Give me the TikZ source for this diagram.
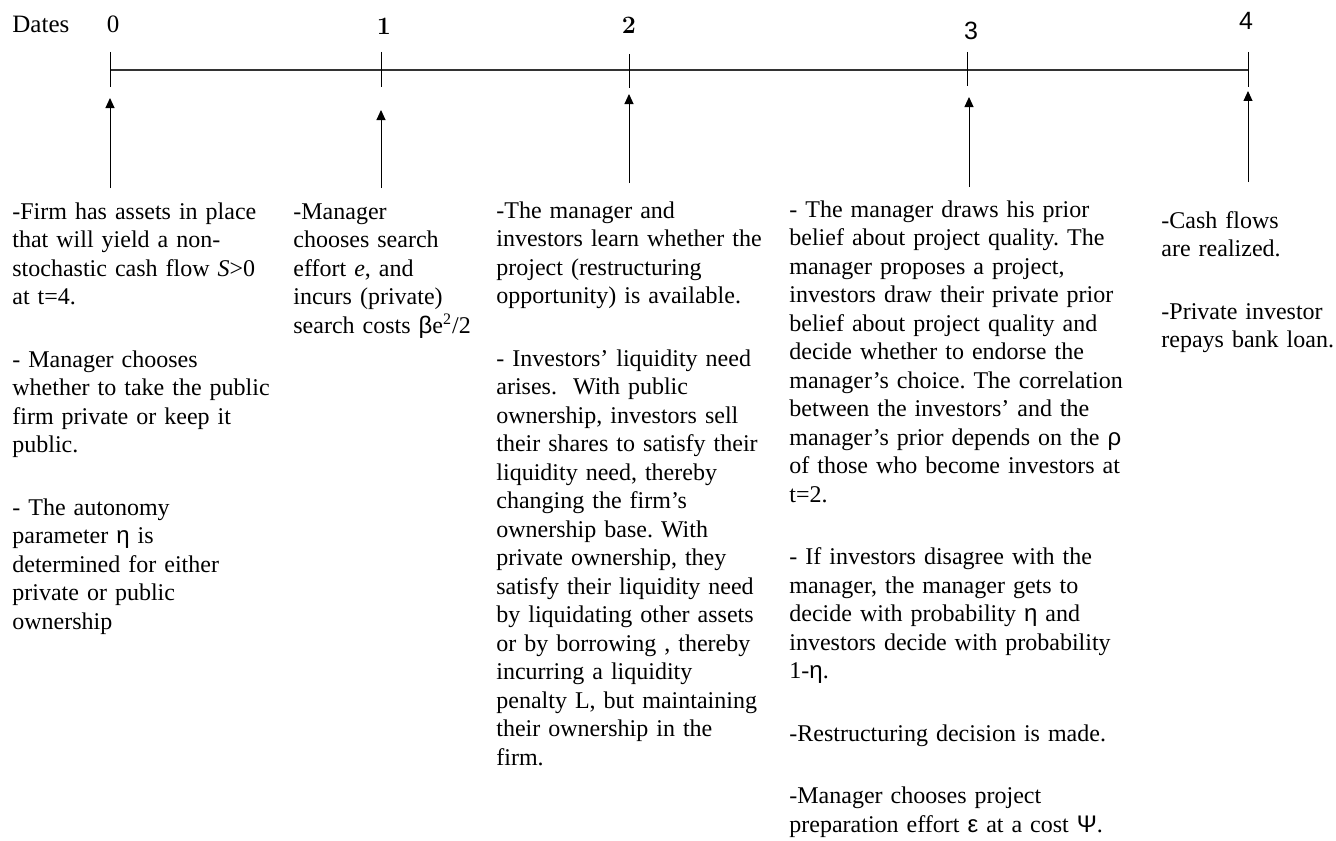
\documentclass[tikz,border=0pt]{standalone}
\usepackage{fontspec}
\setmainfont{Liberation Serif}
\newfontfamily\grk{Liberation Sans}
\newfontfamily\lmr{Latin Modern Roman}
\newfontfamily\digsans{Liberation Sans}
\usetikzlibrary{arrows.meta}
\frenchspacing
\begin{document}
\begin{tikzpicture}[x=0.5pt,y=-0.5pt,
  txt/.style={anchor=north west, inner sep=0pt, text width=#1, align=left,
    font=\fontsize{12}{14.25}\selectfont\frenchspacing},
  datelbl/.style={anchor=center, inner sep=0pt, font=\fontsize{12.5}{14}\selectfont},
  axisline/.style={draw=black!80, line width=0.65pt},
  tickline/.style={draw=black, line width=0.45pt},
  uparrow/.style={draw=black, line width=0.5pt, -{Triangle[length=5pt,width=4.5pt]}}
]
\useasboundingbox[fill=white] (0,0) rectangle (1336,840);

% date labels
\node[datelbl, anchor=west] (dates) at (12,24) {Dates};
\node[datelbl] (d0) at (113,24) {0};
\node[datelbl] (d1) at (384,26) {\lmr\bfseries 1};
\node[datelbl] (d2) at (629,25) {\lmr\bfseries 2};
\node[datelbl] (d3) at (971,31) {\digsans 3};
\node[datelbl] (d4) at (1246,21) {\digsans 4};

% axis and ticks
\coordinate (t0) at (110,70);
\coordinate (t4) at (1248,70);
\draw[axisline] (t0) -- (t4);
\coordinate (k0a) at (110,52); \coordinate (k0b) at (110,87);
\coordinate (k1a) at (381,52); \coordinate (k1b) at (381,87);
\coordinate (k2a) at (629,54); \coordinate (k2b) at (629,88);
\coordinate (k3a) at (967,52); \coordinate (k3b) at (967,86);
\coordinate (k4a) at (1248,52); \coordinate (k4b) at (1248,87);
\draw[tickline] (k0a) -- (k0b);
\draw[tickline] (k1a) -- (k1b);
\draw[tickline] (k2a) -- (k2b);
\draw[tickline] (k3a) -- (k3b);
\draw[tickline] (k4a) -- (k4b);

% arrows
\coordinate (a0s) at (110,188); \coordinate (a0e) at (110,98);
\coordinate (a1s) at (381,188); \coordinate (a1e) at (381,110);
\coordinate (a2s) at (629,183); \coordinate (a2e) at (629,94);
\coordinate (a3s) at (969,187); \coordinate (a3e) at (969,97);
\coordinate (a4s) at (1248,182); \coordinate (a4e) at (1248,91);
\draw[uparrow] (a0s) -- (a0e);
\draw[uparrow] (a1s) -- (a1e);
\draw[uparrow] (a2s) -- (a2e);
\draw[uparrow] (a3s) -- (a3e);
\draw[uparrow] (a4s) -- (a4e);

% text columns
\node[txt=150pt] (c0) at (12,199) {\strut -Firm has assets in place\\
that will yield a non-\\
stochastic cash flow \textit{S}>0\\
at t=4.\\[17pt]
- Manager chooses\\
whether to take the public\\
firm private or keep it\\
public.\\[17pt]
- The autonomy\\
parameter {\grk η} is\\
determined for either\\
private or public\\
ownership};

\node[txt=110pt] (c1) at (293,199) {\strut -Manager\\
chooses search\\
effort \textit{e}, and\\
incurs (private)\\
search costs {\grk β}e\textsuperscript{2}/2};

\node[txt=150pt] (c2) at (496,198) {\strut -The manager and\\
investors learn whether the\\
project (restructuring\\
opportunity) is available.\\[17pt]
- Investors’ liquidity need\\
arises.\ \ With public\\
ownership, investors sell\\
their shares to satisfy their\\
liquidity need, thereby\\
changing the firm’s\\
ownership base. With\\
private ownership, they\\
satisfy their liquidity need\\
by liquidating other assets\\
or by borrowing , thereby\\
incurring a liquidity\\
penalty L, but maintaining\\
their ownership in the\\
firm.};

\node[txt=170pt] (c3) at (789,197) {\strut - The manager draws his prior\\
belief about project quality. The\\
manager proposes a project,\\
investors draw their private prior\\
belief about project quality and\\
decide whether to endorse the\\
manager’s choice. The correlation\\
between the investors’ and the\\
manager’s prior depends on the {\grk ρ}\\
of those who become investors at\\
t=2.\\[17pt]
- If investors disagree with the\\
manager, the manager gets to\\
decide with probability {\grk η} and\\
investors decide with probability\\
1-{\grk η}.\\[17pt]
-Restructuring decision is made.\\[17pt]
-Manager chooses project\\
preparation effort {\grk ε} at a cost {\grk Ψ}.};

\node[txt=90pt] (c4) at (1161,208) {\strut -Cash flows\\
are realized.\\[17pt]
-Private investor\\
repays bank loan.};
\end{tikzpicture}
\end{document}
